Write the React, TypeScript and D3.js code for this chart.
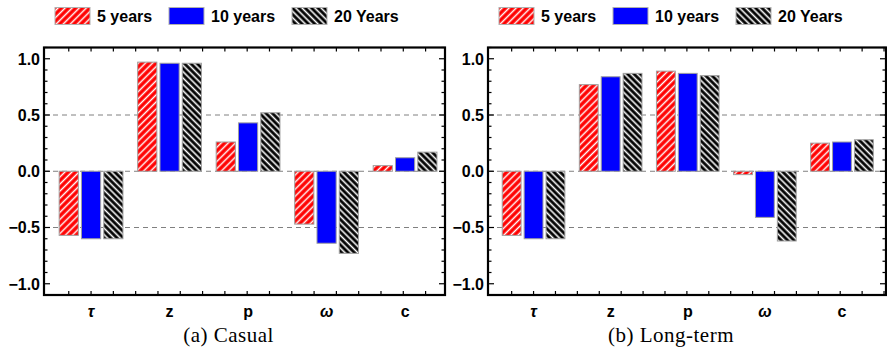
import * as d3 from 'd3';

// categories and series
const categories = ['τ', 'z', 'p', 'ω', 'c'];
const seriesNames = ['5 years', '10 years', '20 Years'];

// (a) Casual
const casual5 = [-0.57, 0.97, 0.26, -0.47, 0.05];
const casual10 = [-0.6, 0.96, 0.43, -0.64, 0.12];
const casual20 = [-0.6, 0.96, 0.52, -0.73, 0.17];

// (b) Long-term
const longTerm5 = [-0.57, 0.77, 0.89, -0.03, 0.25];
const longTerm10 = [-0.6, 0.84, 0.87, -0.41, 0.26];
const longTerm20 = [-0.6, 0.87, 0.85, -0.62, 0.28];

const yTickValues = [-1, -0.5, 0, 0.5, 1];
const gridValues = [-0.5, 0, 0.5];

const W = 887;
const H = 354;
const TOP = 47.5;
const BOTTOM = 295;
const GROUP_PITCH = 3.52;
const BAR_W = 0.86;
const fills = ['url(#hatchRed)', '#0000ff', 'url(#hatchBlack)'];
const legendOffsets = [0, 114, 237];

const sans = '"Liberation Sans", Arial, sans-serif';
const serif = '"Liberation Serif", "Times New Roman", serif';

const y = d3.scaleLinear().domain([-1.1, 1.1]).range([BOTTOM, TOP]);

type PanelProps = {
  x0: number;
  x1: number;
  domain: [number, number];
  series: number[][];
  caption: string;
};

function Panel({ x0, x1, domain, series, caption }: PanelProps) {
  const x = d3.scaleLinear().domain(domain).range([x0, x1]);
  const xTicks = d3.range(Math.ceil(domain[0] + 0.2), Math.floor(domain[1]) + 1);
  const yMinor = d3.range(-11, 12).map((v) => v / 10).filter((v) => Math.abs(v * 2 - Math.round(v * 2)) > 1e-6);
  const yMajor = d3.range(-2, 3).map((v) => v / 2);
  const groupCenter = (g: number) => x(g * GROUP_PITCH + 1);

  return (
    <g>
      {/* legend */}
      {seriesNames.map((name, i) => (
        <g key={name} transform={`translate(${x0 + 11 + legendOffsets[i]},7.5)`}>
          <rect width={35} height={17} fill={fills[i]} stroke="#b0b0b0" strokeWidth={1} />
          <text x={42} y={14} fontFamily={sans} fontWeight="bold" fontSize={16} fill="#000">
            {name}
          </text>
        </g>
      ))}

      {/* dashed grid */}
      {gridValues.map((v) => (
        <line key={v} x1={x0} x2={x1} y1={y(v)} y2={y(v)} stroke="#808080" strokeWidth={1} strokeDasharray="5,4" />
      ))}

      {/* bars */}
      {series.map((values, s) =>
        values.map((v, g) => {
          const cx = x(g * GROUP_PITCH + s);
          const bw = x(BAR_W) - x(0);
          return (
            <rect
              key={`${s}-${g}`}
              x={cx - bw / 2}
              y={Math.min(y(v), y(0))}
              width={bw}
              height={Math.abs(y(v) - y(0))}
              fill={fills[s]}
              stroke="#a0a0a0"
              strokeWidth={1}
            />
          );
        })
      )}

      {/* frame ticks */}
      {xTicks.map((t) => (
        <g key={t}>
          <line x1={x(t)} x2={x(t)} y1={TOP} y2={TOP + 4} stroke="#000" strokeWidth={1.2} />
          <line x1={x(t)} x2={x(t)} y1={BOTTOM} y2={BOTTOM - 4} stroke="#000" strokeWidth={1.2} />
        </g>
      ))}
      {yMajor.map((v) => (
        <g key={`M${v}`}>
          <line x1={x0} x2={x0 + 6} y1={y(v)} y2={y(v)} stroke="#000" strokeWidth={1.2} />
          <line x1={x1} x2={x1 - 6} y1={y(v)} y2={y(v)} stroke="#000" strokeWidth={1.2} />
        </g>
      ))}
      {yMinor.map((v) => (
        <g key={`m${v}`}>
          <line x1={x0} x2={x0 + 3.5} y1={y(v)} y2={y(v)} stroke="#000" strokeWidth={1.2} />
          <line x1={x1} x2={x1 - 3.5} y1={y(v)} y2={y(v)} stroke="#000" strokeWidth={1.2} />
        </g>
      ))}

      {/* frame */}
      <rect x={x0} y={TOP} width={x1 - x0} height={BOTTOM - TOP} fill="none" stroke="#000" strokeWidth={2.2} />

      {/* y tick labels */}
      {yTickValues.map((v) => (
        <text
          key={v}
          x={x0 - 4}
          y={y(v)}
          dy="0.36em"
          textAnchor="end"
          fontFamily={sans}
          fontWeight="bold"
          fontSize={16}
          fill="#000"
        >
          {d3.format('.1f')(v).replace('-', '\u2212')}
        </text>
      ))}

      {/* category labels */}
      {categories.map((c, g) => (
        <text
          key={c}
          x={groupCenter(g)}
          y={317}
          textAnchor="middle"
          fontFamily={sans}
          fontWeight="bold"
          fontStyle={c === 'τ' || c === 'ω' ? 'italic' : 'normal'}
          fontSize={16}
          fill="#000"
        >
          {c}
        </text>
      ))}

      <text
        x={(x0 + x1) / 2 - 16}
        y={342}
        textAnchor="middle"
        fontFamily={serif}
        fontSize={21}
        letterSpacing={0.5}
        fill="#000"
      >
        {caption}
      </text>
    </g>
  );
}

export default function App() {
  return (
    <svg width={W} height={H} style={{ position: 'absolute', left: 0, top: 0, background: '#fff' }}>
      <defs>
        <pattern id="hatchRed" patternUnits="userSpaceOnUse" width={5} height={5} patternTransform="rotate(45)">
          <rect width={5} height={5} fill="#ff0000" />
          <line x1={2.5} x2={2.5} y1={0} y2={5} stroke="#fff" strokeWidth={1.5} />
        </pattern>
        <pattern id="hatchBlack" patternUnits="userSpaceOnUse" width={4.5} height={4.5} patternTransform="rotate(-45)">
          <rect width={4.5} height={4.5} fill="#000" />
          <line x1={2.25} x2={2.25} y1={0} y2={4.5} stroke="#fff" strokeWidth={1.6} />
        </pattern>
      </defs>
      <rect width={W} height={H} fill="#fff" />
      <Panel x0={44} x1={445} domain={[-1.11, 16.87]} series={[casual5, casual10, casual20]} caption="(a) Casual" />
      <Panel
        x0={488}
        x1={886}
        domain={[-1.08, 17.09]}
        series={[longTerm5, longTerm10, longTerm20]}
        caption="(b) Long-term"
      />
    </svg>
  );
}
